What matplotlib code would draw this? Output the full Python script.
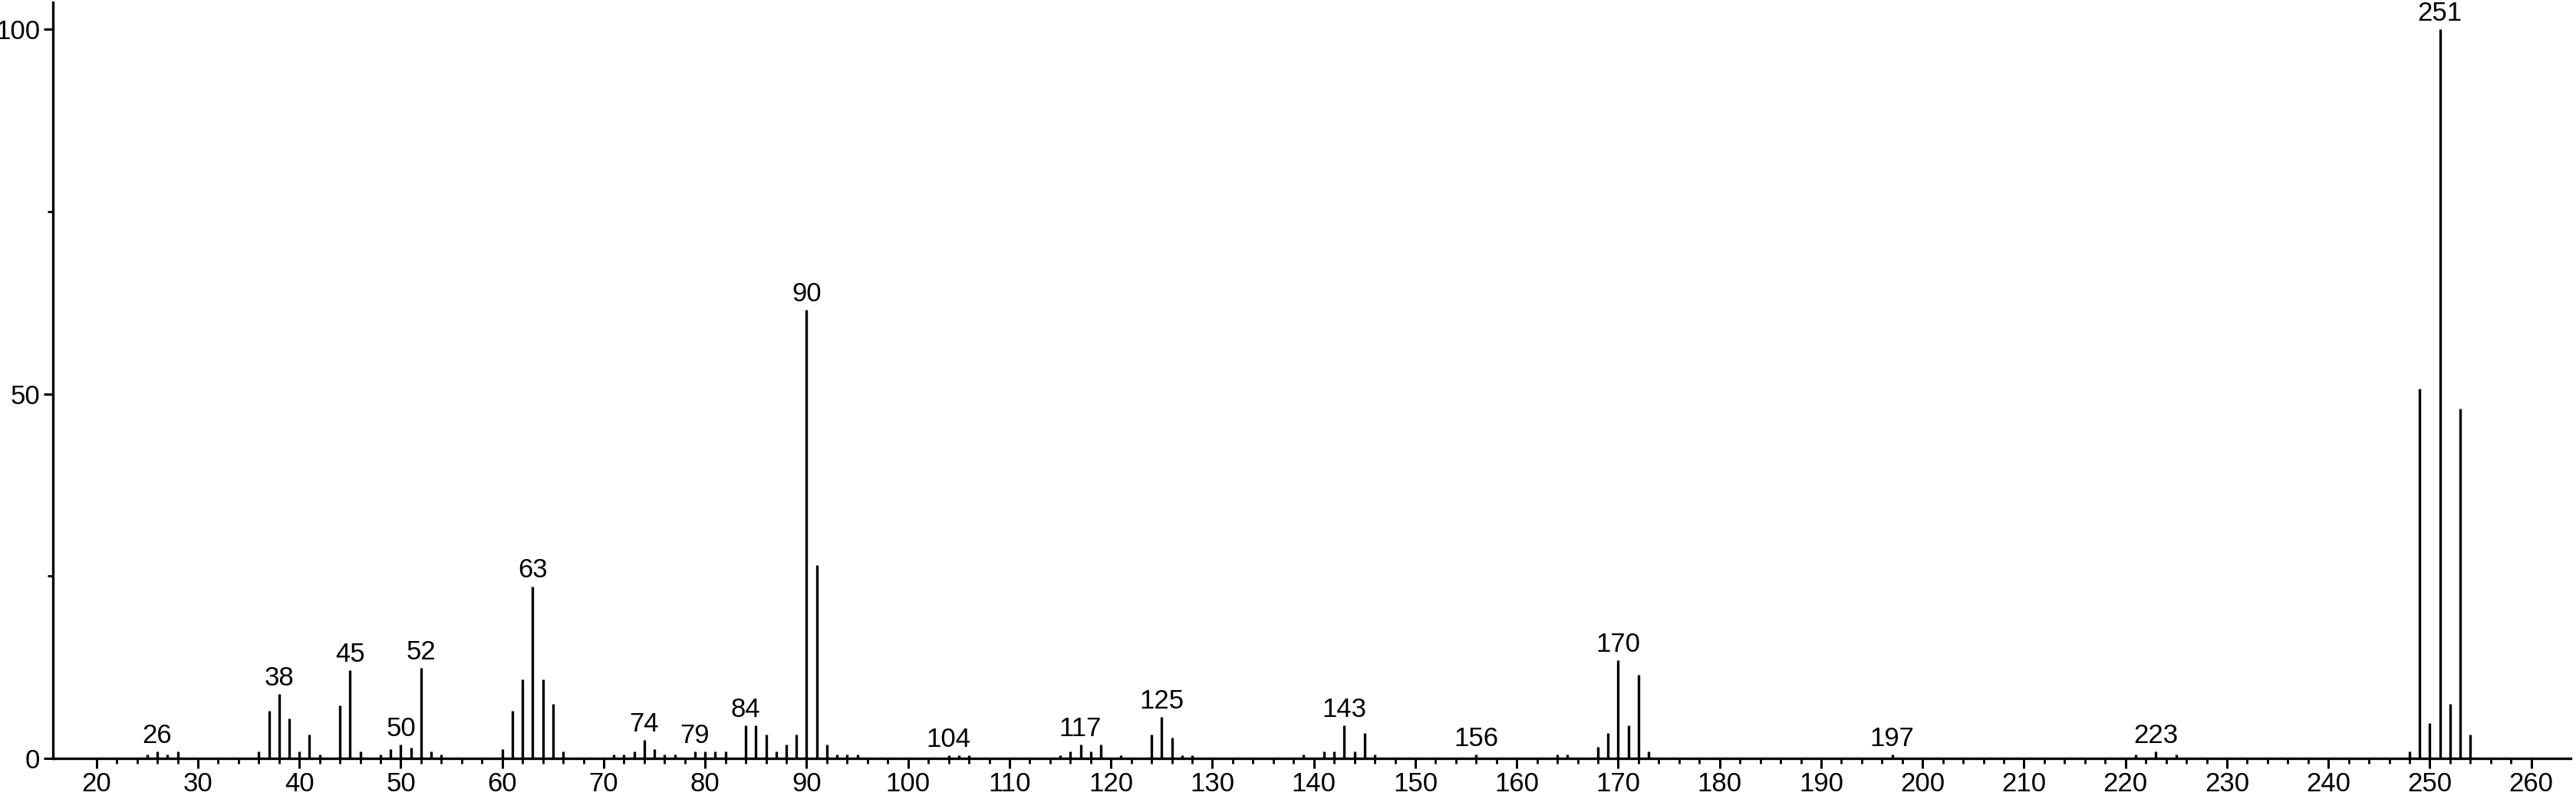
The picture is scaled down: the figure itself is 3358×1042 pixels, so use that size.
import matplotlib.pyplot as plt
from matplotlib.ticker import FixedLocator, NullFormatter

# m/z peaks and relative intensity (%)
mz = [25, 26, 27, 28, 36, 37, 38, 39, 40, 41, 42, 44, 45, 46, 48, 49, 50, 51, 52, 53, 54,
      60, 61, 62, 63, 64, 65, 66, 71, 72, 73, 74, 75, 76, 77, 79, 80, 81, 82,
      84, 85, 86, 87, 88, 89, 90, 91, 92, 93, 94, 95,
      104, 105, 106, 115, 116, 117, 118, 119, 121, 124, 125, 126, 127, 128,
      139, 141, 142, 143, 144, 145, 146, 156, 164, 165, 168, 169, 170, 171, 172, 173,
      197, 221, 223, 225, 248, 249, 250, 251, 252, 253, 254]
intensity = [0.5, 0.9, 0.5, 0.9, 0.9, 6.5, 8.8, 5.5, 0.9, 3.2, 0.5, 7.2, 12.1, 0.9, 0.5, 1.2, 1.9, 1.5, 12.4, 0.9, 0.5,
             1.2, 6.5, 10.8, 23.6, 10.8, 7.5, 0.9, 0.5, 0.5, 0.95, 2.5, 1.2, 0.5, 0.5, 0.9, 0.9, 0.9, 0.95,
             4.5, 4.5, 3.2, 0.9, 1.9, 3.2, 61.5, 26.5, 1.9, 0.5, 0.5, 0.5,
             0.4, 0.4, 0.4, 0.45, 0.9, 1.9, 0.9, 1.9, 0.45, 3.2, 5.7, 2.8, 0.45, 0.45,
             0.5, 0.9, 0.9, 4.5, 0.9, 3.5, 0.5, 0.5, 0.5, 0.5, 1.6, 3.5, 13.4, 4.5, 11.4, 0.9,
             0.5, 0.5, 0.9, 0.5, 0.9, 50.7, 4.8, 100.0, 7.5, 48.0, 3.2]

labeled = [26, 38, 45, 50, 52, 63, 74, 79, 84, 90, 104, 117, 125, 143, 156, 170, 197, 223, 251]

x_major = list(range(20, 261, 10))
x_minor = [v for v in range(20, 259, 2) if v % 10 != 0]
y_major = [0, 50, 100]
y_minor = [25, 75]

fig = plt.figure(figsize=(33.58, 10.42), dpi=100)
ax = fig.add_axes([0.0205, 0.051, 0.9775, 0.946])

ax.vlines(mz, 0, intensity, color="black", linewidth=2.4)

peak_font = ["Liberation Sans Narrow", "Liberation Sans", "DejaVu Sans"]
for m, h in zip(mz, intensity):
    if m in labeled:
        ax.annotate(str(m), (m, h), textcoords="offset points", xytext=(0, 3),
                    ha="center", va="bottom", fontsize=25, family=peak_font,
                    annotation_clip=False)

ax.set_xlim(15.7, 263.9)
ax.set_ylim(0, 103.7)

for side in ("top", "right"):
    ax.spines[side].set_visible(False)
for side in ("left", "bottom"):
    ax.spines[side].set_linewidth(2.4)

ax.xaxis.set_major_locator(FixedLocator(x_major))
ax.xaxis.set_minor_locator(FixedLocator(x_minor))
ax.yaxis.set_major_locator(FixedLocator(y_major))
ax.yaxis.set_minor_locator(FixedLocator(y_minor))
ax.yaxis.set_minor_formatter(NullFormatter())

ax.tick_params(axis="both", which="major", direction="out", length=9, width=2.2,
               labelsize=25, pad=3)
ax.tick_params(axis="both", which="minor", direction="out", length=5, width=2.0)
for lab in ax.get_xticklabels() + ax.get_yticklabels():
    lab.set_family(["Liberation Sans", "DejaVu Sans"])

fig.savefig("out.png", dpi=100)
